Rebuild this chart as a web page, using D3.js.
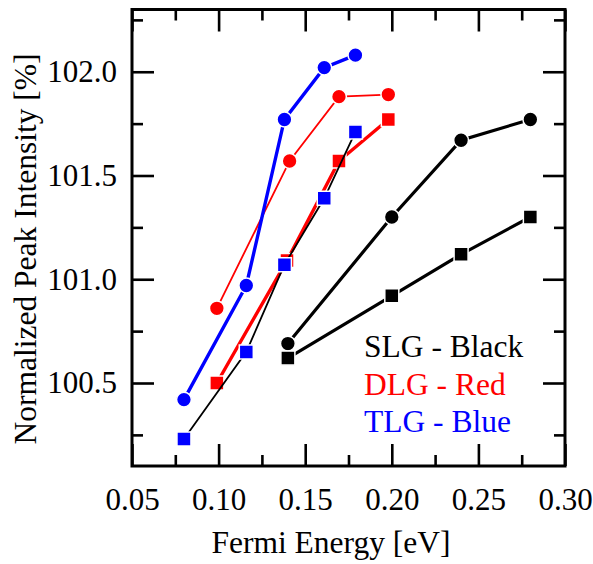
<!DOCTYPE html>
<html lang="en">
<head>
    <meta charset="UTF-8">
    <title>Normalized Peak Intensity</title>
    <script src="https://cdn.jsdelivr.net/npm/d3@7/dist/d3.min.js"></script>
    <style>
        body {
            margin: 0;
            background-color: white;
        }

        svg text {
            font-family: "Liberation Serif", "Times New Roman", serif;
        }

        .axis path {
            fill: none;
            stroke: none;
        }

        .axis line {
            stroke: black;
            stroke-width: 2.6px;
        }

        .axis text {
            font-size: 31px;
            fill: black;
        }
    </style>
</head>
<body>
<svg width="593" height="564"></svg>

<script>
    // Fermi energy (eV) and normalized peak intensity (%)
    var slgEnergy = [0.140, 0.200, 0.240, 0.280];
    var slgCircle = [100.69, 101.30, 101.67, 101.77];
    var slgSquare = [100.62, 100.92, 101.12, 101.30];

    var dlgCircleEnergy = [0.099, 0.141, 0.1695, 0.198];
    var dlgCircle = [100.86, 101.57, 101.88, 101.89];
    var dlgSquareEnergy = [0.099, 0.1395, 0.1695, 0.198];
    var dlgSquare = [100.50, 101.09, 101.57, 101.77];

    var tlgEnergy = [0.080, 0.116, 0.138, 0.161, 0.179];
    var tlgCircle = [100.42, 100.97, 101.77, 102.02, 102.08];
    var tlgSquare = [100.23, 100.65, 101.07, 101.39, 101.71];

    var xMajor = [0.05, 0.10, 0.15, 0.20, 0.25, 0.30];
    var xMinor = [0.075, 0.125, 0.175, 0.225, 0.275];
    var yMajor = [100.5, 101.0, 101.5, 102.0];
    var yMinor = [100.25, 100.75, 101.25, 101.75, 102.25];

    var legendLabels = ["SLG - Black", "DLG - Red", "TLG - Blue"];
    var legendColors = ["black", "red", "blue"];

    var svg = d3.select("svg");
    var pLeft = 132, pRight = 565, pTop = 9.5, pBottom = 466;

    var x = d3.scaleLinear().domain([0.05, 0.30]).range([pLeft, pRight]);
    var y = d3.scaleLinear().domain([100.1, 102.3]).range([pBottom, pTop]);

    //坐标轴 (ticks point inward on all four sides)
    var major = 22, minor = 11;
    function addAxis(axis, tx, ty) {
        svg.append("g")
            .attr("class", "axis")
            .attr("transform", "translate(" + tx + "," + ty + ")")
            .call(axis);
    }
    addAxis(d3.axisBottom(x).tickValues(xMajor).tickSize(-major).tickPadding(22)
        .tickFormat(d3.format(".2f")), 0, pBottom);
    addAxis(d3.axisBottom(x).tickValues(xMinor).tickSize(-minor).tickFormat(""), 0, pBottom);
    addAxis(d3.axisTop(x).tickValues(xMajor).tickSize(-major).tickFormat(""), 0, pTop);
    addAxis(d3.axisTop(x).tickValues(xMinor).tickSize(-minor).tickFormat(""), 0, pTop);
    addAxis(d3.axisLeft(y).tickValues(yMajor).tickSize(-major).tickPadding(15)
        .tickFormat(d3.format(".1f")), pLeft, 0);
    addAxis(d3.axisLeft(y).tickValues(yMinor).tickSize(-minor).tickFormat(""), pLeft, 0);
    addAxis(d3.axisRight(y).tickValues(yMajor).tickSize(-major).tickFormat(""), pRight, 0);
    addAxis(d3.axisRight(y).tickValues(yMinor).tickSize(-minor).tickFormat(""), pRight, 0);

    svg.append("rect")
        .attr("x", pLeft)
        .attr("y", pTop)
        .attr("width", pRight - pLeft)
        .attr("height", pBottom - pTop)
        .attr("fill", "none")
        .attr("stroke", "black")
        .attr("stroke-width", 3);

    //坐标轴说明
    svg.append("text")
        .text("Fermi Energy [eV]")
        .attr("x", 331)
        .attr("y", 553)
        .attr("text-anchor", "middle")
        .style("font-size", "31.5px");
    svg.append("text")
        .text("Normalized Peak Intensity [%]")
        .attr("transform", "translate(36,249) rotate(-90)")
        .attr("text-anchor", "middle")
        .style("font-size", "31.5px");

    //曲线
    function series(energy, values, lineColor, lineWidth, markColor, shape) {
        var pts = energy.map(function (e, i) {
            return [e, values[i]];
        });
        var line = d3.line()
            .x(function (d) { return x(d[0]); })
            .y(function (d) { return y(d[1]); });
        svg.append("path")
            .datum(pts)
            .attr("d", line)
            .attr("fill", "none")
            .attr("stroke", lineColor)
            .attr("stroke-width", lineWidth);
        var sym = d3.symbol()
            .type(shape === "square" ? d3.symbolSquare : d3.symbolCircle)
            .size(shape === "square" ? 14 * 14 : Math.PI * 7.4 * 7.4);
        svg.selectAll(null)
            .data(pts)
            .enter()
            .append("path")
            .attr("d", sym)
            .attr("transform", function (d) {
                return "translate(" + x(d[0]) + "," + y(d[1]) + ")";
            })
            .attr("fill", markColor)
            .attr("stroke", "white")
            .attr("stroke-width", 1.5);
    }

    series(dlgCircleEnergy, dlgCircle, "red", 1.8, "red", "circle");
    series(dlgSquareEnergy, dlgSquare, "red", 3.4, "red", "square");
    series(tlgEnergy, tlgCircle, "blue", 3.4, "blue", "circle");
    series(tlgEnergy, tlgSquare, "black", 1.8, "blue", "square");
    series(slgEnergy, slgCircle, "black", 3.2, "black", "circle");
    series(slgEnergy, slgSquare, "black", 3.2, "black", "square");

    //图例
    svg.selectAll(".legend")
        .data(legendLabels)
        .enter()
        .append("text")
        .attr("x", 364)
        .attr("y", function (d, i) { return 357 + 37.5 * i; })
        .attr("fill", function (d, i) { return legendColors[i]; })
        .style("font-size", "31.5px")
        .text(function (d) { return d; });
</script>
</body>
</html>
